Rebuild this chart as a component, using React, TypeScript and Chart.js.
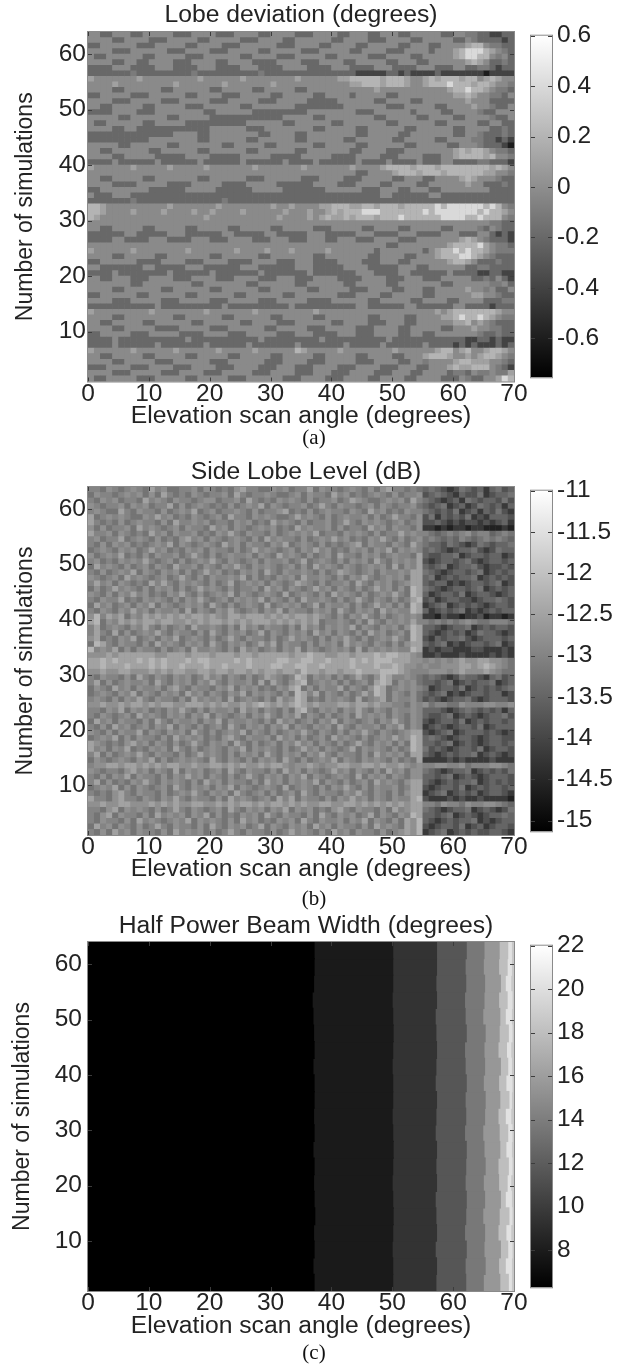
import React, { useEffect, useRef } from "react";
import { Chart, registerables } from "chart.js";
Chart.register(...registerables);

const angleTicks = [0, 10, 20, 30, 40, 50, 60, 70];
const simulationTicks = [10, 20, 30, 40, 50, 60];
const lobeBarTicks = [0.6, 0.4, 0.2, 0, -0.2, -0.4, -0.6];
const sideBarTicks = [-11, -11.5, -12, -12.5, -13, -13.5, -14, -14.5, -15];
const beamBarTicks = [22, 20, 18, 16, 14, 12, 10, 8];

const lobeRange = [-0.755, 0.6];
const sideRange = [-15.13, -11];
const beamRange = [6.28, 22];

// Cell codes for each panel: one character per degree, rows from 63 down to 1.
const lobeLevels = [-0.6, -0.4, -0.2, -0.1, -0.02, 0.1, 0.2, 0.4];
const lobeRows = [
  "4422444224444422244442224444224444222444422444224442244444224433221122",
  "4444224444222444442244444222444422444444224444222444422444442243222212",
  "2244444422244444224444222444444222444422444422444442244422444456643322",
  "4444222444444222444422244444224444422244444224444222444424445677765432",
  "4224444442244444222444444224444222444442244444222444422444445677664342",
  "4444224422444422244442244442222444422244442244444224442244444456542232",
  "2222444222244422224442222444222244442222444222244422224442224422332122",
  "2222222322222222232222222222322222222222222211111221211112111111101111",
  "5444444454444444445444444544444444544444455666665666544565666566456544",
  "4444544444444454444444544444445444444444444556665666544566676665665443",
  "4444224444442244444422444442244444224444444444454444444444456676654332",
  "2244444222444444224444222444442244444224444244444224444444445565443324",
  "4444222444442224444422244444222444442222244444422444422444444454442222",
  "4422444442244444222444444224444444222222224444444222444442244445443224",
  "2222444422244444444224444442222222224444444422244444424444224444322444",
  "4444422444444224444422222222222244444224444444422444442244442244443224",
  "4224444442244444222222222244444422444444224444444224444442244444224422",
  "4444224422222222222244444422244444444224444422444444224444442244442232",
  "2222222222222244442244444444224444224444444422444442244444442244322232",
  "2222222222444444442244444422444444224444442244444422444442244443322121",
  "4444422444444224444444224444422444444224444422444444224444422444322210",
  "4422444444224444442244444422444444224444444224444222444444445656654332",
  "4444224444422222444422222444442222244444222244442224444222445666656443",
  "2222422222242222224222222422222242222422222242222422224222442222332221",
  "5444444544444544444544444445444444454444444544445666656665666666665654",
  "4444444444444444444444444444444444444444444422444456665666566666655443",
  "4422444442244444442244444422244444422244442224444422444224444565444322",
  "4444222244444222244444222244444222222444422244442244442244444454422232",
  "2244444444222222444442222224444422222224444442224442244422444444442222",
  "4222444222222222222222222222222222222222222222224422222244222222222222",
  "2222222322222222222222322222222222222222222222222222222222222222222222",
  "6654444444444544444445444444445445444455666556656665666667677777767643",
  "6654444544445444454454444544444454445445656667776666666767777777676654",
  "6544444444444444444544444444444544445456556566656667666666777766766643",
  "4444444444444444444444444444444444444444444444444444444444444444443322",
  "4422444442244444224444422444442244444222444442244442244444224444324322",
  "2222224422222444222222442222244222224442222244422224442222444222442121",
  "2222442222444222244422244442224442224442244422244442224444444565432221",
  "4444444444444444444444444444444444444444444444444224444444456666754332",
  "5444444544444444544444445444454445444445444444424444444245667676654333",
  "4444224444422444444422444444224444444224444444224444224445666776543222",
  "2244444422224444222444422224444222444222244442224442244444456654222322",
  "4422222224422222444222222444222222444222224444222224442244444422332222",
  "2222422222222422222242222222422222224222222244422224422222242222112211",
  "4422444222444422244442224444222444222444422224444222444222444442232421",
  "4444444224444444422444444422444444224444442244444224444444224444443342",
  "4444224444442244444422444444224444442244444222444422444224444454434224",
  "2244444422444444224444442244444422444444422244442244444224444445544322",
  "4444222444442224444422244444222444442222444444224444422444422444422233",
  "2222222222242222222222422222222224222222222244222222442222224422221222",
  "5444444444544444444544444445444444444544444444444444444445456666666544",
  "4444224444444422444444224444442244444224444444224444224444556766765433",
  "4422444442244444422444444224444222444444224444222444224444445564543222",
  "4444224444422224444422244444422444442224444422244442244444224445443322",
  "2244444222444442222444422244444222444222244422244442244224444444322322",
  "2222422222222222422222222222422222222242222222222422222222222211221211",
  "2222422222242222222422222242222222422222224222224222222422221212111212",
  "5444444544444454444445444445444444654444454444444454444445664564456654",
  "4422444442244444224444422444442244444224444422444422444566654454566543",
  "4444224444422244444422244444422244442224444422244442244344445665554432",
  "2224444222444422244442224444222444222444422244442224442244456556664321",
  "4444222444442224444222444442224444222444222444422244422444423324334335",
  "4224444422244444224444422244444422244442224444224444224444222432244576",
];

const sideLevels = [-14.6, -14.2, -13.8, -13.5, -13.25, -13, -12.8, -12.5, -12.2, -11.8];
const sideRows = [
  "5546545654756445564654546755446564557465545654646755454343212432313423",
  "4655456564647545465455647545565445646554756454565464556234321322412334",
  "5465645547565465545664556475454656546455645765445656475432123143233242",
  "6545564656455746456545464565746545564575465545646545564323412312432313",
  "5654475465546456574564556546455674546456554654756454655432324123132421",
  "7456565446575645465456475546565445756546456556464575546241323241213332",
  "7545464565546475565645546564547565464556457546565456456223212122121231",
  "6464556475654564655475646545656454756556464554756465546110101101100010",
  "7556465454756465564546575465546456565745546565464557565543454564553454",
  "5645574565464546756465456546475655464565756454657546456454343543454543",
  "5464656454565746545654756465546574565464545674655465475433243212432334",
  "4565465645756454656465546457565456465756454656465746565343212334212433",
  "6456574546465564575464565564654756546456475546564565547322334123323312",
  "5645465657545646456575465456465564574565464656475465657212332342123323",
  "4756546456465475564654657546565456464756546545656474657323412334212232",
  "5464565746546564645756454656475465565464576545646556577432123323412323",
  "6545647565456457546465565746454656475565464657545656477341232334123232",
  "5756465454757546565464574565646545765464556475465645677323312123323412",
  "4645756546465646457565464556475646545756465464575646487432123323412323",
  "6546465756454657546456574654565474565464756546456575487312332412332123",
  "5465574546565464657545646565746546475565464575465464578231233221233432",
  "4756456465746545656475464565474565645746556464575646487123412323212332",
  "5465465756465564746546575456465746554656475465647565587312323412123233",
  "6857674657676767677676577677767676776765464657546456565110211011201101",
  "7846576767767766767677676767776767676745565464754656575545454565445554",
  "5745654657546456475565464756465546475646565746546564687332123341232332",
  "5754746456575465546475465645746546564756465464756456487321232312433212",
  "6745465745646574565464575465546457565464657546456575487213233421233323",
  "4875465546475654656475465645757465546465647565465464677323412123323412",
  "8565746465546456475565464756456465746545656474656565587121221112211121",
  "6667677777766777677767776776777776778776677677787887765112111211112121",
  "7787877787878777878877778787777887788778777878788877766565656766776654",
  "7787778777878778777877877787778877887787777877787787665655666776787654",
  "6676677666767677667767767767677677687767767787778887655566656766676544",
  "5465546475465465645756465464576545874656464575468755654343212433213423",
  "5746456556475465646575465564747546784565646456478746564332341232334123",
  "4654756465564675465546574656454657846465574654687456565412332412323234",
  "4565465746546564756465465746565464875746546457587465464323412123323312",
  "5654646575465546475656474565464756874546565474567465564232123342123332",
  "6676676776767766777676766767876767876766677677676655465645544655566556",
  "5546574656454657546465564756465464785465646575465465565333212343232313",
  "5465456475654656465746545646575465746546456475656465465322341232123342",
  "4756465546475465564657465565464756456465746545646575465212332412323323",
  "5464756456465746546456475465646574654656475465564657465123212332412333",
  "6546465574654656475464565746546456575465464657546545677212341233323212",
  "4565746465546475656454675465564756464564756546456575687343212332123322",
  "7654546756465464575465647546456465756465464575465646487332341232123323",
  "7564657454656475464565465746565464575646545746565464587423212332412332",
  "5746456575465546457565464656475465646575465546475656477321232334123212",
  "4654565465746456565475465464656475464565746546565464547111121211112111",
  "5667767767676776676677676766767765667656677667767667656556655645556654",
  "6545546756465474656456475465546475646545756465464756466432123341232324",
  "5464657465546465756465464575465646574654565474656465466332341232123332",
  "5746454657546565464756465546475646565746546456475654677321232334123232",
  "4565746465456475465646574654565474565464657546465564577212332412323323",
  "5454675465546456575465647545646456475465546575465464677123412323123321",
  "7554675546546575465546475654564757465546465756465465578211121211211110",
  "6676677666767676677667676776767767676677667767676767677554655465566543",
  "5546746565464575465456475465646574656454675465546475677432123341232124",
  "5467465546475656465746454656475465546475465645746546587332341232123343",
  "5465546475654565746565464756454656475465564657465464768321232334121233",
  "4756465464575465546475465645746546564756465546475654768212332412312332",
  "5464756465546475656464575465546457565464756465546456768123412323223321",
];

const beamValues = [6.3, 7.9, 9.4, 11.6, 13.7, 15.6, 18.0, 20.2];
const beamRowsY = [2.5, 5.5, 8.5, 11.5, 14.5, 17.5, 20.5, 23.5, 26.5, 29.5, 32.5, 35.5, 38.5, 41.5, 44.5, 47.5, 50.5, 53.5, 56.5, 59.5, 62.5];
const beamEdge1 = [37.2, 37.0, 37.2, 37.1, 37.3, 37.2, 37.1, 37.2, 37.0, 37.2, 37.1, 37.2, 37.2, 37.0, 37.2, 37.1, 37.0, 36.9, 37.1, 37.2, 37.2];
const beamEdge2 = [50.1, 50.1, 50.0, 50.1, 50.2, 50.1, 50.0, 50.1, 50.2, 50.1, 50.0, 50.1, 50.1, 50.0, 50.1, 50.2, 50.1, 50.0, 50.1, 50.1, 50.1];
const beamEdge3 = [57.2, 57.3, 57.1, 57.3, 57.2, 57.1, 57.3, 57.2, 57.3, 57.1, 57.2, 57.3, 57.1, 57.2, 57.3, 57.2, 57.1, 57.3, 57.2, 57.3, 57.3];
const beamEdge4 = [62.1, 62.0, 62.2, 61.9, 62.1, 62.2, 62.0, 62.1, 62.2, 61.9, 62.1, 62.0, 62.2, 62.0, 61.9, 62.2, 62.0, 61.9, 62.1, 62.0, 62.2];
const beamEdge5 = [65.0, 65.3, 65.1, 65.2, 64.9, 65.2, 65.0, 65.3, 65.1, 64.9, 65.2, 65.3, 65.0, 65.2, 65.1, 65.3, 64.9, 65.1, 65.2, 65.0, 65.1];
const beamEdge6 = [67.7, 67.5, 67.8, 67.4, 67.6, 67.8, 67.5, 67.4, 67.7, 67.6, 67.4, 67.7, 67.5, 67.8, 67.4, 67.6, 67.7, 67.5, 67.8, 67.5, 67.6];
const beamEdge7 = [69.1, 68.6, 69.0, 68.7, 69.2, 68.6, 68.9, 69.1, 68.7, 69.0, 68.6, 69.2, 68.7, 69.0, 68.8, 69.1, 68.6, 68.9, 68.6, 68.9, 69.0];
const beamEdge8 = [69.6, 69.6, 69.7, 69.5, 69.7, 69.6, 69.5, 69.7, 69.6, 69.7, 69.5, 69.6, 69.7, 69.6, 69.5, 69.7, 69.6, 69.7, 69.5, 69.6, 69.6];
const beamEdges = [beamRowsY.map(() => 0), beamEdge1, beamEdge2, beamEdge3, beamEdge4, beamEdge5, beamEdge6, beamEdge7, beamEdge8];

const FONT = "'Liberation Sans', Arial, sans-serif";
const TEXT = "#232323";
const tickSize = 24.5;
const titleSize = 24.7;
const yTitleSize = 23;

function gray(v: number, range: number[]) {
  const g = Math.round(255 * Math.max(0, Math.min(1, (v - range[0]) / (range[1] - range[0]))));
  return `rgb(${g},${g},${g})`;
}

const framePlugin = (frameColor: string, tickColor: string, bg: string, titleShift: number) => ({
  id: "frame",
  afterLayout(chart: any) {
    if (chart.titleBlock && titleShift) {
      chart.titleBlock.left += titleShift;
      chart.titleBlock.right += titleShift;
    }
  },
  beforeDatasetsDraw(chart: any) {
    if (!bg) return;
    const a = chart.chartArea;
    chart.ctx.fillStyle = bg;
    chart.ctx.fillRect(a.left, a.top, a.width, a.height);
  },
  afterDatasetsDraw(chart: any) {
    const { ctx, chartArea: a, scales } = chart;
    ctx.save();
    ctx.lineWidth = 1;
    ctx.strokeStyle = tickColor;
    const len = 4;
    ctx.beginPath();
    if (scales.x.options.display) {
      for (const t of scales.x.ticks) {
        const x = Math.round(scales.x.getPixelForValue(t.value)) + 0.5;
        ctx.moveTo(x, a.bottom); ctx.lineTo(x, a.bottom - len);
        ctx.moveTo(x, a.top); ctx.lineTo(x, a.top + len);
      }
    }
    for (const t of scales.y.ticks) {
      const y = Math.round(scales.y.getPixelForValue(t.value)) + 0.5;
      ctx.moveTo(a.left, y); ctx.lineTo(a.left + len, y);
      ctx.moveTo(a.right, y); ctx.lineTo(a.right - len, y);
    }
    ctx.stroke();
    ctx.strokeStyle = frameColor;
    ctx.strokeRect(a.left - 0.5, a.top - 0.5, a.width + 1, a.height + 1);
    ctx.restore();
  },
});

type Panel = {
  title: string; caption: string; captionY: number; top: number; plotTop: number; plotBottom: number; bottom: number;
  titleShift: number; titlePadTop: number; tickPad: number; yTitlePad: number;
  barTicks: number[]; barRange: number[];
};

const CANVAS_W = 560;
const panels: Panel[] = [
  { title: "Lobe deviation (degrees)", caption: "(a)", captionY: 437, top: 0, plotTop: 32, plotBottom: 381.5, bottom: 431, titleShift: 0, titlePadTop: 0.8, tickPad: 2, yTitlePad: 12, barTicks: lobeBarTicks, barRange: lobeRange },
  { title: "Side Lobe Level (dB)", caption: "(b)", captionY: 898, top: 450, plotTop: 487, plotBottom: 835, bottom: 884, titleShift: 5, titlePadTop: 7.8, tickPad: 2, yTitlePad: 12, barTicks: sideBarTicks, barRange: sideRange },
  { title: "Half Power Beam Width (degrees)", caption: "(c)", captionY: 1352, top: 905, plotTop: 942, plotBottom: 1291, bottom: 1341, titleShift: 5, titlePadTop: 6.8, tickPad: 6, yTitlePad: 9, barTicks: beamBarTicks, barRange: beamRange },
];

function cellData(rows: string[], levels: number[], range: number[]) {
  const points: { x: number; y: number }[] = [];
  const colors: string[] = [];
  rows.forEach((row, r) => {
    for (let c = 0; c < row.length && c < 70; c++) {
      points.push({ x: c + 0.5, y: 63.5 - r });
      colors.push(gray(levels[Number(row[c])], range));
    }
  });
  return { points, colors };
}

function panelDatasets(i: number): { type: string; datasets: any[] } {
  if (i < 2) {
    const { points, colors } = i === 0 ? cellData(lobeRows, lobeLevels, lobeRange) : cellData(sideRows, sideLevels, sideRange);
    return {
      type: "scatter",
      datasets: [{
        data: points, pointStyle: "rect", pointRadius: 4.5, pointHoverRadius: 4.5, pointBorderWidth: 0,
        pointBackgroundColor: colors, clip: 0,
      }],
    };
  }
  return {
    type: "bar",
    datasets: beamValues.map((v, b) => ({
      data: beamRowsY.map((y, r) => ({
        y,
        x: [beamEdges[b][r], beamEdges[b + 1][r]],
      })),
      backgroundColor: gray(v, beamRange),
      barThickness: 17.2,
      grouped: false,
      borderWidth: 0,
      clip: 0,
    })).concat([{
      data: beamRowsY.map((y, r) => ({ y, x: [beamEdge8[r], 70] })),
      backgroundColor: "#c8c8c8",
      barThickness: 17.2,
      grouped: false,
      borderWidth: 0,
      clip: 0,
    } as any]),
  };
}

export default function App() {
  const mainRefs = useRef<(HTMLCanvasElement | null)[]>([]);
  const barRefs = useRef<(HTMLCanvasElement | null)[]>([]);

  useEffect(() => {
    const charts: Chart[] = [];
    panels.forEach((p, i) => {
      const { type, datasets } = panelDatasets(i);
      const titleLine = titleSize * 1.15;
      charts.push(new Chart(mainRefs.current[i]!, {
        type: type as any,
        data: { datasets },
        plugins: [framePlugin("#8a8a8a", "#3c3c3c", i === 2 ? "" : "#868686", p.titleShift) as any],
        options: {
          animation: false,
          responsive: false,
          indexAxis: i === 2 ? "y" : "x",
          layout: { padding: { left: 0, right: CANVAS_W - 514, top: 0, bottom: 0 } },
          plugins: {
            legend: { display: false },
            tooltip: { enabled: false },
            title: {
              display: true, text: p.title, color: TEXT, fullSize: false,
              font: { family: FONT, size: titleSize, weight: "normal", lineHeight: 1.15 },
              padding: { top: p.titlePadTop, bottom: p.plotTop - p.top - p.titlePadTop - titleLine },
            },
          },
          scales: {
            x: {
              type: "linear", min: 0, max: 70, offset: false,
              grid: { display: false, drawTicks: false }, border: { display: false },
              afterBuildTicks: (s: any) => { s.ticks = angleTicks.map((value) => ({ value })); },
              afterFit: (s: any) => { s.height = p.bottom - p.plotBottom; },
              ticks: { color: TEXT, padding: -2, maxRotation: 0, font: { family: FONT, size: tickSize }, callback: (v: any) => String(v) },
              title: { display: true, text: "Elevation scan angle (degrees)", color: TEXT, padding: 0, font: { family: FONT, size: titleSize } },
            },
            y: {
              type: "linear", min: 1, max: 64, offset: false,
              grid: { display: false, drawTicks: false }, border: { display: false },
              afterBuildTicks: (s: any) => { s.ticks = simulationTicks.map((value) => ({ value })); },
              afterFit: (s: any) => { s.width = 88; },
              ticks: { color: TEXT, padding: p.tickPad, font: { family: FONT, size: tickSize }, callback: (v: any) => String(v) },
              title: { display: true, text: "Number of simulations", color: TEXT, padding: p.yTitlePad, font: { family: FONT, size: yTitleSize } },
            },
          },
        } as any,
      }));

      charts.push(new Chart(barRefs.current[i]!, {
        type: "bar",
        data: {
          labels: ["colorbar"],
          datasets: [{
            data: [[p.barRange[0], p.barRange[1]]] as any,
            barPercentage: 1,
            categoryPercentage: 1,
            borderWidth: 0,
            backgroundColor: (c: any) => {
              const a = c.chart.chartArea;
              if (!a) return "#888";
              const g = c.chart.ctx.createLinearGradient(0, a.bottom, 0, a.top);
              g.addColorStop(0, "#000000");
              g.addColorStop(1, "#ffffff");
              return g;
            },
          }],
        },
        plugins: [framePlugin("#8a8a8a", "#3c3c3c", "", 0) as any],
        options: {
          animation: false,
          responsive: false,
          layout: { padding: { left: 6, right: 0, top: 16, bottom: 16 } },
          plugins: { legend: { display: false }, tooltip: { enabled: false } },
          scales: {
            x: { display: false },
            y: {
              position: "right", min: p.barRange[0], max: p.barRange[1],
              grid: { display: false, drawTicks: false }, border: { display: false },
              afterBuildTicks: (s: any) => { s.ticks = p.barTicks.map((value) => ({ value })); },
              afterFit: (s: any) => { s.width = 70; },
              ticks: { color: TEXT, padding: 5, crossAlign: "near", autoSkip: false, font: { family: FONT, size: tickSize }, callback: (v: any) => String(v) },
            },
          },
        } as any,
      }));
    });
    return () => charts.forEach((c) => c.destroy());
  }, []);

  const soft = "blur(0.7px)";
  return (
    <div style={{ position: "absolute", left: 0, top: 0, width: 622, height: 1364, background: "#fff", overflow: "hidden" }}>
      {panels.map((p, i) => (
        <React.Fragment key={p.caption}>
          <canvas
            ref={(el) => { mainRefs.current[i] = el; }}
            width={CANVAS_W}
            height={p.bottom - p.top}
            style={{ position: "absolute", left: 0, top: p.top, display: "block", filter: soft }}
          />
          <canvas
            ref={(el) => { barRefs.current[i] = el; }}
            width={97}
            height={p.plotBottom - p.plotTop + 32}
            style={{ position: "absolute", left: 525, top: p.plotTop - 16, display: "block", filter: soft }}
          />
          <div style={{
            position: "absolute", left: 264, width: 100, textAlign: "center",
            top: p.captionY - 12, fontFamily: "'Liberation Serif', serif", fontSize: 21, lineHeight: "24px", color: "#111",
          }}>{p.caption}</div>
        </React.Fragment>
      ))}
    </div>
  );
}
